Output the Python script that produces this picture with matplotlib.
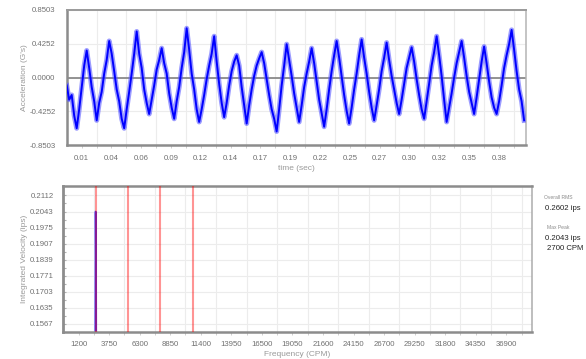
import numpy as np
import matplotlib
matplotlib.use("Agg")
import matplotlib.pyplot as plt

plt.rcParams['font.family'] = ['Liberation Sans', 'DejaVu Sans']

# ---------------- data ----------------
sample_interval = 0.0022  # seconds between samples (time waveform)
accel = [
    -0.10, -0.28, -0.22, -0.48, -0.64, -0.40, -0.12, 0.15, 0.34, 0.12,
    -0.12, -0.30, -0.54, -0.32, -0.18, 0.05, 0.22, 0.46, 0.30, 0.08,
    -0.15, -0.30, -0.52, -0.64, -0.40, -0.18, 0.05, 0.30, 0.58, 0.30,
    0.12, -0.15, -0.32, -0.46, -0.28, -0.10, 0.10, 0.22, 0.37, 0.18,
    0.05, -0.20, -0.38, -0.52, -0.30, -0.12, 0.12, 0.32, 0.62, 0.35,
    0.05, -0.15, -0.40, -0.56, -0.40, -0.22, -0.02, 0.15, 0.30, 0.52,
    0.20, -0.08, -0.32, -0.50, -0.32, -0.10, 0.08, 0.20, 0.28, 0.15,
    -0.12, -0.35, -0.58, -0.35, -0.15, 0.02, 0.15, 0.24, 0.32, 0.18,
    -0.02, -0.22, -0.40, -0.52, -0.68, -0.40, -0.10, 0.15, 0.42, 0.22,
    0.02, -0.20, -0.38, -0.56, -0.35, -0.12, 0.05, 0.20, 0.37, 0.18,
    -0.05, -0.28, -0.45, -0.62, -0.40, -0.15, 0.08, 0.28, 0.46, 0.25,
    0.02, -0.22, -0.42, -0.58, -0.38, -0.15, 0.05, 0.28, 0.48, 0.25,
    0.05, -0.18, -0.38, -0.54, -0.35, -0.15, 0.08, 0.25, 0.44, 0.22,
    0.02, -0.15, -0.32, -0.46, -0.28, -0.08, 0.12, 0.25, 0.38, 0.20,
    -0.02, -0.22, -0.40, -0.52, -0.30, -0.08, 0.15, 0.32, 0.52, 0.28,
    0.02, -0.28, -0.56, -0.38, -0.20, 0.00, 0.18, 0.32, 0.46, 0.25,
    0.02, -0.18, -0.32, -0.46, -0.25, -0.02, 0.20, 0.39, 0.18, -0.05,
    -0.25, -0.38, -0.46, -0.30, -0.10, 0.12, 0.28, 0.42, 0.60, 0.35,
    0.08, -0.15, -0.30, -0.54,
]
accel_ticks = [-0.8503, -0.4252, 0.0, 0.4252, 0.8503]
time_labels = ['0.01', '0.04', '0.06', '0.09', '0.12', '0.14', '0.17', '0.19',
               '0.22', '0.25', '0.27', '0.30', '0.32', '0.35', '0.38']

spec_freq = [2550, 2625, 2662, 2700, 2738, 2775, 2850]
spec_vel = [0.010, 0.050, 0.120, 0.2043, 0.172, 0.060, 0.012]
harmonics = [2700, 5400, 8100, 10800]
vel_ticks = [0.1567, 0.1635, 0.1703, 0.1771, 0.1839, 0.1907, 0.1975, 0.2043, 0.2112]
freq_labels = ['1200', '3750', '6300', '8850', '11400', '13950', '16500', '19050',
               '21600', '24150', '26700', '29250', '31800', '34350', '36900']

overall_rms = 0.2602
max_peak = 0.2043
max_peak_cpm = 2700

# ---------------- figure ----------------
W, H = 586, 359
fig = plt.figure(figsize=(W / 100, H / 100), dpi=100)

TICK_C = '#707070'
LAB_C = '#9a9a9a'
GRID_C = '#ececec'
SPINE_C = '#8c8c8c'
FS = 5.6


def box(l, t, r, b):
    return [l / W, 1 - b / H, (r - l) / W, (b - t) / H]


# ---------- top: acceleration waveform ----------
ax1 = fig.add_axes(box(66.7, 10, 525.7, 145))
t = np.arange(len(accel)) * sample_interval
ax1.plot(t, accel, color='#5a5aff', lw=3.6, alpha=0.6, zorder=3)
ax1.plot(t, accel, color='#0000ff', lw=1.4, zorder=4)
ax1.axhline(0, color='#8a8a8a', lw=1.3, zorder=2)

t_max = 0.404
t_bin = 0.02623
ax1.set_xlim(0, t_max)
ax1.set_ylim(accel_ticks[0], accel_ticks[-1])
ax1.set_yticks(accel_ticks)
ax1.set_yticklabels([f'{v:.4f}' for v in accel_ticks])
centers = [(k + 0.5) * t_bin for k in range(len(time_labels))]
ax1.set_xticks(centers)
ax1.set_xticklabels(time_labels)
edges = [k * t_bin for k in range(1, 16) if k * t_bin < t_max]
ax1.set_xticks(edges, minor=True)
ax1.grid(True, which='minor', axis='x', color=GRID_C, lw=0.8)
ax1.grid(True, which='major', axis='y', color=GRID_C, lw=0.8)
ax1.tick_params(axis='x', which='both', length=2.5, width=0.6, color='#c8c8c8',
                labelsize=FS, labelcolor=TICK_C, pad=5)
ax1.tick_params(axis='y', which='both', length=0, labelsize=FS, labelcolor=TICK_C, pad=8)
ax1.set_ylabel("Acceleration (G's)", fontsize=6, color=LAB_C)
ax1.yaxis.set_label_coords(-0.084, 0.5)
ax1.set_xlabel('time (sec)', fontsize=6, color=LAB_C)
ax1.xaxis.set_label_coords(0.5, -0.145)
for s, (c, w) in {'left': (SPINE_C, 1.8), 'bottom': (SPINE_C, 1.8),
                  'top': ('#9a9a9a', 1.4), 'right': ('#b4b4b4', 1.1)}.items():
    ax1.spines[s].set_color(c)
    ax1.spines[s].set_linewidth(w)

# ---------- bottom: velocity spectrum ----------
ax2 = fig.add_axes(box(63.3, 185.7, 531.7, 331.7))
ax2.plot(spec_freq, spec_vel, color='#3030ff', lw=1.3, zorder=2)
for h in harmonics:
    ax2.axvline(h, color='#ff0000', alpha=0.42, lw=1.5, zorder=3)

f_bin = 2550
f_max = 39100
ax2.set_xlim(0, f_max)
ax2.set_ylim(0.1533, 0.2153)
ax2.set_yticks(vel_ticks)
ax2.set_yticklabels([f'{v:.4f}' for v in vel_ticks])
ax2.set_yticks([(a + b) / 2 for a, b in zip(vel_ticks[:-1], vel_ticks[1:])], minor=True)
fcenters = [(k + 0.5) * f_bin for k in range(len(freq_labels))]
ax2.set_xticks(fcenters)
ax2.set_xticklabels(freq_labels)
fedges = [k * f_bin for k in range(1, 16) if k * f_bin < f_max]
ax2.set_xticks(fedges, minor=True)
ax2.grid(True, which='minor', axis='x', color=GRID_C, lw=0.8)
ax2.grid(True, which='major', axis='y', color=GRID_C, lw=0.8)
ax2.tick_params(axis='x', which='both', length=2.5, width=0.6, color='#c8c8c8',
                labelsize=FS, labelcolor=TICK_C, pad=4.5)
ax2.tick_params(axis='y', which='both', length=2, width=0.8, color='#b0b0b0', direction='in',
                labelsize=FS, labelcolor=TICK_C, pad=7)
ax2.set_ylabel('Integrated Velocity (ips)', fontsize=6, color=LAB_C)
ax2.yaxis.set_label_coords(-0.076, 0.5)
ax2.set_xlabel('Frequency (CPM)', fontsize=6, color=LAB_C)
ax2.xaxis.set_label_coords(0.5, -0.13)
for s, (c, w) in {'left': (SPINE_C, 2.0), 'bottom': (SPINE_C, 1.8),
                  'top': (SPINE_C, 1.8), 'right': ('#acacac', 1.1)}.items():
    ax2.spines[s].set_color(c)
    ax2.spines[s].set_linewidth(w)

# ---------- side summary ----------
fig.text(558 / W, 1 - 197.5 / H, 'Overall RMS', fontsize=3.6, color='#8a8a8a',
         ha='center', va='center')
fig.text(562.5 / W, 1 - 208 / H, f'{overall_rms:.4f} ips', fontsize=5.6, color='#222222',
         ha='center', va='center')
fig.text(558 / W, 1 - 228 / H, 'Max Peak', fontsize=3.6, color='#8a8a8a',
         ha='center', va='center')
fig.text(562.5 / W, 1 - 238 / H, f'{max_peak:.4f} ips', fontsize=5.6, color='#222222',
         ha='center', va='center')
fig.text(565 / W, 1 - 248.5 / H, f'{max_peak_cpm} CPM', fontsize=5.6, color='#222222',
         ha='center', va='center')

fig.savefig('out.png', dpi=100, facecolor='white')
